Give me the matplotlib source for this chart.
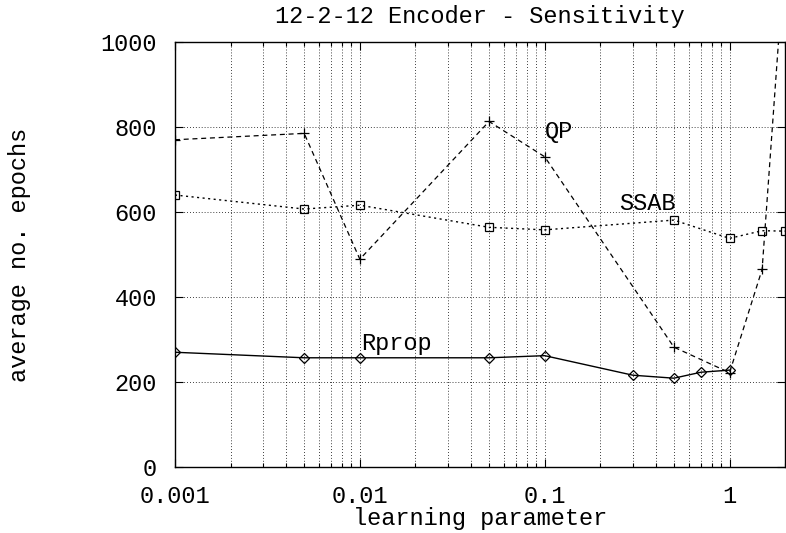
import matplotlib

matplotlib.use("Agg")

import matplotlib.pyplot as plt
from matplotlib.ticker import FixedLocator, LogLocator, NullFormatter

# values
qp_x = [0.001, 0.005, 0.01, 0.05, 0.1, 0.5, 1.0, 1.5, 2.0]
qp_y = [770, 785, 489, 813, 730, 282, 222, 465, 1220]

ssab_x = [0.001, 0.005, 0.01, 0.05, 0.1, 0.5, 1.0, 1.5, 2.0]
ssab_y = [640, 607, 616, 564, 558, 581, 538, 556, 555]

rprop_x = [0.001, 0.005, 0.01, 0.05, 0.1, 0.3, 0.5, 0.7, 1.0]
rprop_y = [270, 257, 257, 257, 262, 216, 209, 223, 228]

x_ticks = [0.001, 0.01, 0.1, 1]
x_tick_labels = ["0.001", "0.01", "0.1", "1"]
y_ticks = [0, 200, 400, 600, 800, 1000]

mono = "Liberation Mono"
fs = 17

fig = plt.figure(figsize=(7.86, 5.33), dpi=100)
ax = fig.add_axes([0.2226, 0.1238, 0.7764, 0.7974])

ax.plot(qp_x, qp_y, color="black", linestyle=(0, (4, 3)), linewidth=0.9,
        marker="+", markersize=7, markeredgewidth=0.9)
ax.plot(ssab_x, ssab_y, color="black", linestyle=(0, (1.5, 2.5)), linewidth=1.0,
        marker="s", markersize=6, markerfacecolor="none", markeredgewidth=0.9)
ax.plot(rprop_x, rprop_y, color="black", linestyle="-", linewidth=1.0,
        marker="D", markersize=5, markerfacecolor="none", markeredgewidth=0.9)

ax.text(0.119, 790, "QP", family=mono, fontsize=fs, ha="center", va="center")
ax.text(0.36, 619, "SSAB", family=mono, fontsize=fs, ha="center", va="center")
ax.text(0.0158, 291, "Rprop", family=mono, fontsize=fs, ha="center", va="center")

ax.set_xscale("log")
ax.set_xlim(0.001, 2)
ax.set_ylim(0, 1000)

ax.xaxis.set_major_locator(FixedLocator(x_ticks))
ax.set_xticklabels(x_tick_labels)
ax.xaxis.set_minor_locator(LogLocator(base=10, subs=range(2, 10), numticks=20))
ax.xaxis.set_minor_formatter(NullFormatter())
ax.set_yticks(y_ticks)

ax.grid(which="both", axis="x", color="black", linestyle=(0, (1, 2.5)), linewidth=0.6)
ax.grid(which="major", axis="y", color="black", linestyle=(0, (1, 2.5)), linewidth=0.6)

ax.tick_params(which="both", direction="in", top=True, right=True, width=0.8)
ax.tick_params(which="major", length=6, pad=13, labelsize=fs)
ax.tick_params(which="minor", length=3)
for lab in ax.get_xticklabels() + ax.get_yticklabels():
    lab.set_family(mono)

for spine in ax.spines.values():
    spine.set_linewidth(1.0)

ax.set_title("12-2-12 Encoder - Sensitivity", family=mono, fontsize=fs, pad=14)
ax.set_xlabel("learning parameter", family=mono, fontsize=fs, labelpad=-1)
ax.set_ylabel("average no. epochs", family=mono, fontsize=fs)
ax.yaxis.set_label_coords(-0.236, 0.5)

fig.savefig("out.png", dpi=100)
